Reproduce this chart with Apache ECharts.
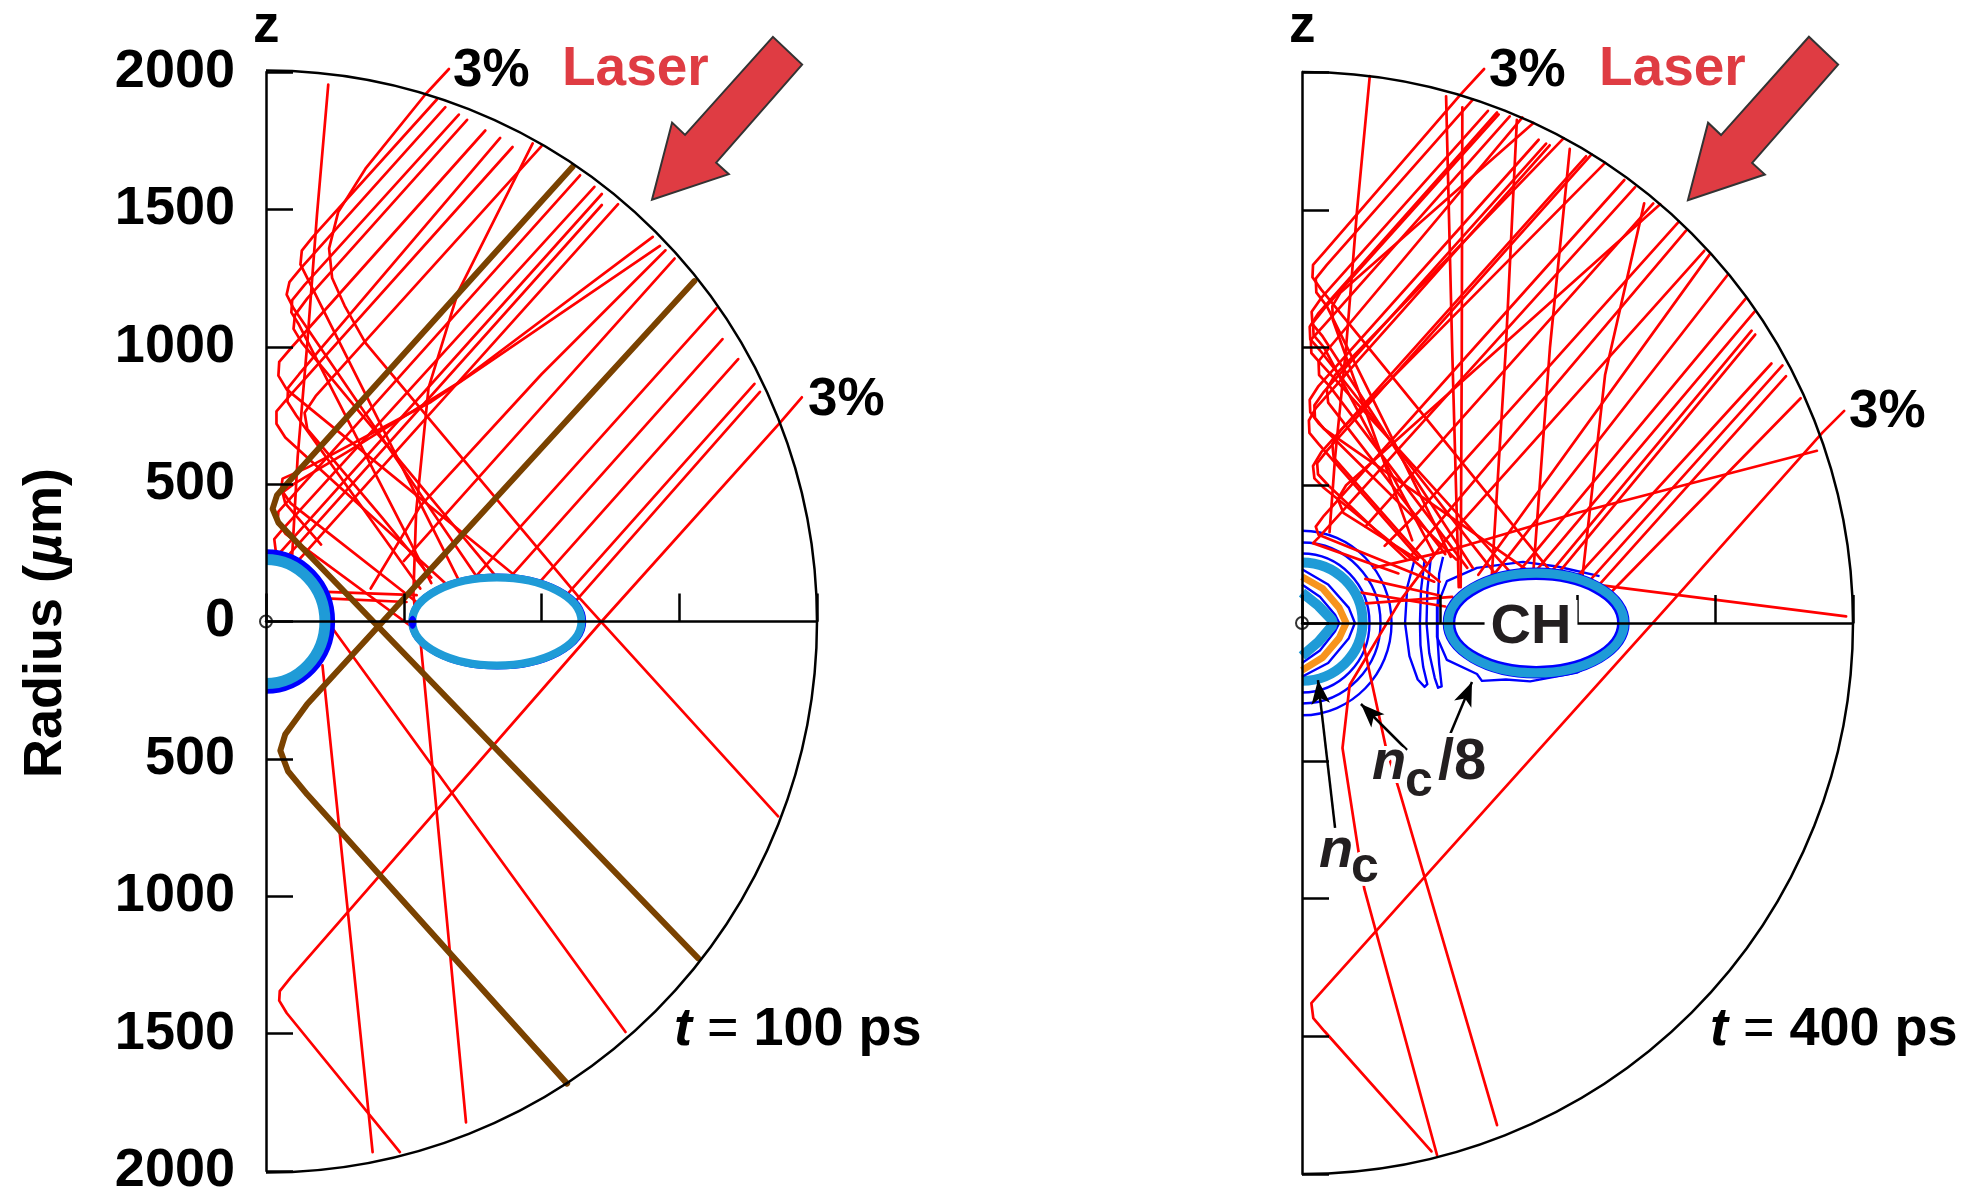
<!DOCTYPE html>
<html><head><meta charset="utf-8">
<script src="https://cdn.jsdelivr.net/npm/echarts/dist/echarts.min.js"></script>
<style>html,body{margin:0;padding:0;background:#fff}#c{width:1967px;height:1198px}</style>
</head><body><div id="c"></div>
<script>
// ---------------- DATA (µm) ----------------
const radiusTicks = [-2000, -1500, -1000, -500, 0, 500, 1000, 1500, 2000];
const zTicks = [0, 500, 1000, 1500, 2000];
const domainRadius = [[0, 0, 2000]];

// t = 100 ps : red rays [z, r]
const leftRedRays = [
  [[226,1954],[185,1480],[150,1014],[115,600],[95,240]],
  [[664,2011],[579,1919],[361,1648],[262,1490],[229,1358],[240,1250],[285,1150],[361,1014],[1140,83],[1859,-709]],
  [[620,1900],[170,1400],[130,1350],[125,1300],[150,1250],[700,150]],
  [[651,1872],[130,1290],[85,1235],[75,1190],[100,1140],[760,170]],
  [[700,1845],[140,1225],[95,1170],[92,1125],[120,1080],[600,140]],
  [[730,1826],[150,1176],[105,1115],[100,1065],[130,1015],[830,170]],
  [[796,1787],[95,1000],[48,945],[45,895],[75,845],[900,170]],
  [[850,1760],[120,900],[80,850],[78,800],[110,750],[560,120]],
  [[895,1727],[85,820],[38,765],[38,720],[70,670],[650,140]],
  [[968,1740],[697,1199],[590,850],[545,400],[535,100],[545,0],[559,-51],[726,-1823]],
  [[1000,1730],[180,820],[140,760],[150,700],[420,380],[600,160]],
  [[1140,1624],[90,450],[45,400],[42,360],[70,320],[530,-20]],
  [[1192,1582],[60,335],[30,300],[35,260],[1305,-1494]],
  [[1219,1556],[50,250]],
  [[1219,1516],[80,240]],
  [[1278,1519],[120,225]],
  [[1404,1400],[700,870],[300,620],[100,500],[60,470],[70,430],[200,280]],
  [[1430,1367],[600,800],[150,560],[60,520],[55,480],[90,430],[560,60]],
  [[1450,1351],[1000,900],[560,420],[380,120]],
  [[1483,1321],[500,220]],
  [[1635,1140],[740,140]],
  [[1657,1028],[885,160]],
  [[1714,955],[990,140]],
  [[1773,865],[1090,95]],
  [[1793,836],[1120,70]],
  [[1945,816],[1866,724],[1218,0],[90,-1295],[50,-1345],[48,-1380],[75,-1425],[486,-1931]],
  [[205,-160],[387,-1931]],
  [[220,108],[547,96]],
  [[238,83],[510,71]]
];
const leftBrownRays = [
  [[1113,1655],[110,540],[40,460],[24,410],[45,360],[110,290],[1569,-1226]],
  [[1555,1239],[150,-300],[70,-410],[52,-470],[80,-545],[150,-630],[1093,-1682]]
];
const leftTargetBlue = [[0, 0, 240, 252]];
const leftTargetCyan = [[0, 0, 214, 226]];
const leftCHBlue = [[840, 0, 318, 170]];
const leftCHCyan = [[838, 0, 307, 160]];
const leftCHTip = [[532, -3, 12, 22]];

// t = 400 ps : red rays
const rightRedRays = [
  [[246,1985],[200,1500],[160,1000],[120,600],[100,330]],
  [[661,2011],[576,1919],[80,1345],[40,1300],[38,1255],[70,1210],[900,190]],
  [[620,1900],[90,1300],[50,1250],[52,1200],[90,1150],[540,240]],
  [[523,1912],[545,1000],[569,130]],
  [[582,1872],[580,1000],[576,130]],
  [[675,1859],[70,1180],[35,1130],[38,1085],[75,1040],[620,200]],
  [[708,1853],[60,1125],[28,1075],[30,1030],[65,990],[700,180]],
  [[714,1846],[80,1140],[40,1090],[42,1045],[80,1000],[480,250]],
  [[754,1839],[75,1075],[32,1028],[34,980],[70,940],[760,180]],
  [[780,1826],[740,1000],[688,156]],
  [[800,1835],[100,1000],[60,950],[62,900],[100,860],[600,200]],
  [[840,1815],[140,1200],[110,1150],[112,1100],[400,300]],
  [[859,1754],[60,860],[28,810],[30,765],[60,725],[560,230]],
  [[886,1740],[80,840],[45,790],[47,745],[80,705],[820,190]],
  [[899,1734],[50,780],[25,735],[27,690],[60,650],[420,240]],
  [[950,1760],[120,900],[90,850],[95,800],[520,250]],
  [[972,1721],[900,1000],[840,190]],
  [[1031,1694],[70,620],[40,570],[45,525],[80,490],[500,150]],
  [[1051,1701],[90,625],[55,580],[58,540],[95,500],[380,230]],
  [[1100,1670],[140,700],[110,650],[115,600],[450,220]],
  [[1170,1608],[80,390],[50,350],[60,320],[480,150]],
  [[1209,1582],[60,310],[40,290],[350,180]],
  [[1242,1523],[1100,900],[1018,170]],
  [[1275,1523],[230,350]],
  [[1300,1520],[160,500],[130,450],[150,400],[420,230]],
  [[1368,1457],[420,400],[300,280]],
  [[1394,1424],[400,250]],
  [[1460,1351],[520,300]],
  [[1480,1338],[640,175]],
  [[1546,1265],[700,180]],
  [[1612,1179],[790,190]],
  [[1645,1133],[850,190]],
  [[1632,1061],[900,180]],
  [[1645,1047],[930,180]],
  [[1704,942],[1000,170]],
  [[1744,935],[1050,160]],
  [[1757,896],[1080,140]],
  [[1810,816],[1120,110]],
  [[1968,770],[1889,691],[1348,83],[81,-1327],[34,-1380],[41,-1434],[81,-1481],[470,-1918]],
  [[1869,625],[1000,400],[529,262],[260,200]],
  [[1975,24],[1060,140]],
  [[520,300],[358,83],[173,-225],[147,-454],[226,-964],[490,-1931]],
  [[200,60],[226,-91],[305,-454],[351,-601],[708,-1823]],
  [[220,70],[545,95]],
  [[215,110],[520,60]],
  [[230,160],[500,100]]
];
const rightTargetOuterBlue = [[0,0,325,335],[0,0,285,292],[0,0,245,252]];
const rightTargetCyan = [[0, 5, 220, 215]];
const rightTargetBlueLevels = [
  [[0,195],[95,140],[170,55],[192,0],[170,-55],[95,-145],[0,-195]],
  [[0,140],[65,95],[120,30],[135,0],[120,-30],[65,-100],[0,-145]]
];
const rightOrange = [[0,168],[75,125],[135,55],[160,0],[135,-55],[75,-125],[0,-172]];
const rightInnerCyan = [[0,110],[60,62],[108,12],[112,0],[108,-12],[60,-68],[0,-120]];
const rightNc8Contours = [
  [[410,235],[382,130],[374,0],[390,-120],[420,-205],[445,-232],[455,-222],[440,-160],[430,-80],[428,0],[432,120],[445,230]],
  [[468,240],[455,120],[452,0],[462,-110],[482,-200],[494,-235],[507,-230],[498,-150],[492,-60],[492,60],[498,180],[512,240]],
  [[1080,170],[926,205],[802,222],[635,200],[526,152],[490,60],[490,-51],[526,-134],[635,-185],[653,-210],[740,-205],[828,-212],[998,-180],[1120,-110]]
];
const rightCHBlueOuter = [[850, 0, 335, 197]];
const rightCHCyan = [[850, 0, 318, 180]];
const rightCHBlueInner = [[850, 0, 298, 160]];

const laserArrow = [[1401,1535],[1474,1816],[1521,1771],[1840,2128],[1946,2027],[1634,1670],[1680,1628]];
const labelArrows = [[[120,-744],[58,-207]], [[381,-461],[214,-294]], [[526,-432],[617,-214]]];
const origin = [[0, 0]];

// ---------------- CHART ----------------
const RED = '#ff0000', BROWN = '#7a4200', CYAN = '#1f9bd7', BLUE = '#0000ff', ORANGE = '#f7941d', LASER = '#df3c43';
const FF = '"Liberation Sans", Arial, sans-serif';
const chart = echarts.init(document.getElementById('c'), null, {renderer: 'canvas'});

function rays(list, g, color, width, z) {
  return list.map(d => ({type:'line', xAxisIndex:g, yAxisIndex:g, data:d, symbol:'none', showSymbol:false,
    clip:false, silent:true, z:z, lineStyle:{color:color, width:width, join:'round', cap:'round'}}));
}
function polylines(list, g, color, width, z) {
  return list.map(d => ({type:'line', xAxisIndex:g, yAxisIndex:g, data:d, symbol:'none', showSymbol:false,
    clip:true, silent:true, z:z, lineStyle:{color:color, width:width, join:'round'}}));
}
function ellipses(list, g, style, z) {
  return {type:'custom', xAxisIndex:g, yAxisIndex:g, clip:true, silent:true, z:z, data:list,
    renderItem:(p, api) => {
      const c = api.coord([api.value(0), api.value(1)]);
      const s = api.size([api.value(2), api.value(3)]);
      return {type:'ellipse', shape:{cx:c[0], cy:c[1], rx:s[0], ry:s[1]}, style:Object.assign({}, style)};
    }};
}
function boundary(g) {
  return {type:'custom', xAxisIndex:g, yAxisIndex:g, clip:false, silent:true, z:7, data:domainRadius,
    renderItem:(p, api) => {
      const c = api.coord([api.value(0), api.value(1)]);
      const r = api.size([api.value(2), 0])[0];
      return {type:'arc', shape:{cx:c[0], cy:c[1], r:r, startAngle:-Math.PI/2, endAngle:Math.PI/2, clockwise:true},
        style:{fill:'none', stroke:'#000', lineWidth:2.5}};
    }};
}
function arrowShape(g) {
  return {type:'custom', xAxisIndex:g, yAxisIndex:g, clip:false, silent:true, z:8, data:[laserArrow[0]],
    renderItem:(p, api) => ({type:'polygon', shape:{points:laserArrow.map(q => api.coord(q))},
      style:{fill:LASER, stroke:'#333', lineWidth:2, lineJoin:'miter'}})};
}
function originMark(g) {
  return {type:'scatter', xAxisIndex:g, yAxisIndex:g, data:origin, symbol:'circle', symbolSize:12, clip:false, silent:true, z:9,
    itemStyle:{color:'rgba(0,0,0,0)', borderColor:'#000', borderWidth:2}};
}
function xAx(g) {
  return {gridIndex:g, type:'value', min:0, max:2000, interval:500, z:6,
    axisLine:{onZero:true, lineStyle:{color:'#000', width:2.5}},
    axisTick:{inside:true, length:28, lineStyle:{color:'#000', width:2.5}},
    axisLabel:{show:false}, splitLine:{show:false}};
}
function yAx(g) {
  return {gridIndex:g, type:'value', min:-2000, max:2000, interval:500, z:6,
    axisLine:{onZero:false, lineStyle:{color:'#000', width:2.5}},
    axisTick:{inside:true, length:27, lineStyle:{color:'#000', width:2.5}},
    axisLabel:{show:g === 0, margin:31, color:'#000', fontFamily:FF, fontWeight:'bold', fontSize:54,
      formatter:v => String(Math.abs(v))},
    splitLine:{show:false}};
}

const series = [];
series.push(ellipses(rightTargetOuterBlue, 1, {fill:'none', stroke:BLUE, lineWidth:2.4}, 1));
series.push(...polylines(rightNc8Contours, 1, BLUE, 2.4, 1));
series.push(...rays(leftRedRays, 0, RED, 2.7, 2));
series.push(...rays(leftBrownRays, 0, BROWN, 6, 3));
series.push(...rays(rightRedRays, 1, RED, 2.7, 2));
series.push(ellipses(leftTargetBlue, 0, {fill:'#fff', stroke:BLUE, lineWidth:6}, 4));
series.push(ellipses(leftTargetCyan, 0, {fill:'none', stroke:CYAN, lineWidth:11}, 5));
series.push(ellipses(leftCHBlue, 0, {fill:'#fff', stroke:BLUE, lineWidth:2.5}, 4));
series.push(ellipses(leftCHCyan, 0, {fill:'none', stroke:CYAN, lineWidth:8}, 5));
series.push(ellipses(leftCHTip, 0, {fill:BLUE, stroke:BLUE, lineWidth:1}, 5));
series.push(ellipses(rightTargetCyan, 1, {fill:'#fff', stroke:CYAN, lineWidth:10}, 4));
series.push(...polylines(rightTargetBlueLevels, 1, BLUE, 2.4, 5));
series.push(...polylines([rightOrange], 1, ORANGE, 7, 5));
series.push(...polylines([rightInnerCyan], 1, CYAN, 10, 5));
series.push(ellipses(rightCHBlueOuter, 1, {fill:'#fff', stroke:BLUE, lineWidth:2.4}, 4));
series.push(ellipses(rightCHCyan, 1, {fill:'none', stroke:CYAN, lineWidth:10}, 5));
series.push(ellipses(rightCHBlueInner, 1, {fill:'none', stroke:BLUE, lineWidth:2.4}, 5));
series.push(boundary(0), boundary(1), arrowShape(0), arrowShape(1), originMark(0), originMark(1));
series.push({type:'line', xAxisIndex:1, yAxisIndex:1, data:[[0,0]], symbol:'none', lineStyle:{opacity:0}, silent:true, z:9,
  markLine:{silent:true, symbol:['none','arrow'], symbolSize:[14,24], animation:false,
    lineStyle:{color:'#000', width:2.5, type:'solid'}, label:{show:false},
    data:labelArrows.map(a => [{coord:a[0]}, {coord:a[1]}])}});

function txt(x, y, text, font, fill) {
  return {type:'text', x:x, y:y, z:100,
    style:{text:text, font:font, fill:fill || '#000', align:'left', verticalAlign:'middle'}};
}
const B53 = 'bold 53px ' + FF;
const rich = {
  i:{fontFamily:FF, fontWeight:'bold', fontStyle:'italic', fontSize:54, fill:'#000'},
  n:{fontFamily:FF, fontWeight:'normal', fontSize:54, fill:'#000'},
  b:{fontFamily:FF, fontWeight:'bold', fontSize:54, fill:'#000'}
};
const halo = {stroke:'#fff', lineWidth:8};
const graphic = [
  txt(253, 27, 'z', B53),
  txt(1289, 27, 'z', B53),
  txt(453, 71, '3%', B53),
  txt(1489, 71, '3%', B53),
  txt(808, 400, '3%', B53),
  txt(1849, 412, '3%', B53),
  txt(562, 70, 'Laser', 'bold 55px ' + FF, LASER),
  txt(1599, 70, 'Laser', 'bold 55px ' + FF, LASER),
  {type:'text', x:674, y:1030, z:100, style:{text:'{i|t}{n| = }{b|100 ps}', rich:rich, align:'left', verticalAlign:'middle'}},
  {type:'text', x:1710, y:1030, z:100, style:{text:'{i|t}{n| = }{b|400 ps}', rich:rich, align:'left', verticalAlign:'middle'}},
  {type:'text', x:46, y:623, rotation:Math.PI/2, z:100, style:{text:'{b|Radius (}{i|µ}{b|m)}', rich:rich, align:'center', verticalAlign:'middle'}},
  {type:'text', x:1531, y:628, z:100, style:{text:'CH', font:'bold 56px ' + FF, fill:'#231f20', align:'center', verticalAlign:'middle', backgroundColor:'#fff', padding:[0,6]}},
  {type:'text', x:1372, y:764, z:100, style:Object.assign({text:'n', font:'italic bold 56px ' + FF, fill:'#231f20', align:'left', verticalAlign:'middle'}, halo)},
  {type:'text', x:1405, y:782, z:100, style:Object.assign({text:'c', font:'bold 50px ' + FF, fill:'#231f20', align:'left', verticalAlign:'middle'}, halo)},
  {type:'text', x:1438, y:763, z:100, style:Object.assign({text:'/8', font:'bold 58px ' + FF, fill:'#231f20', align:'left', verticalAlign:'middle'}, halo)},
  {type:'text', x:1319, y:852, z:100, style:Object.assign({text:'n', font:'italic bold 56px ' + FF, fill:'#231f20', align:'left', verticalAlign:'middle'}, halo)},
  {type:'text', x:1351, y:868, z:100, style:Object.assign({text:'c', font:'bold 50px ' + FF, fill:'#231f20', align:'left', verticalAlign:'middle'}, halo)}
];

chart.setOption({
  animation:false,
  backgroundColor:'#fff',
  grid:[{left:266, top:72, width:551, height:1102}, {left:1302, top:72, width:551, height:1102}],
  xAxis:[xAx(0), xAx(1)],
  yAxis:[yAx(0), yAx(1)],
  series:series,
  graphic:graphic
});
</script>
</body></html>
